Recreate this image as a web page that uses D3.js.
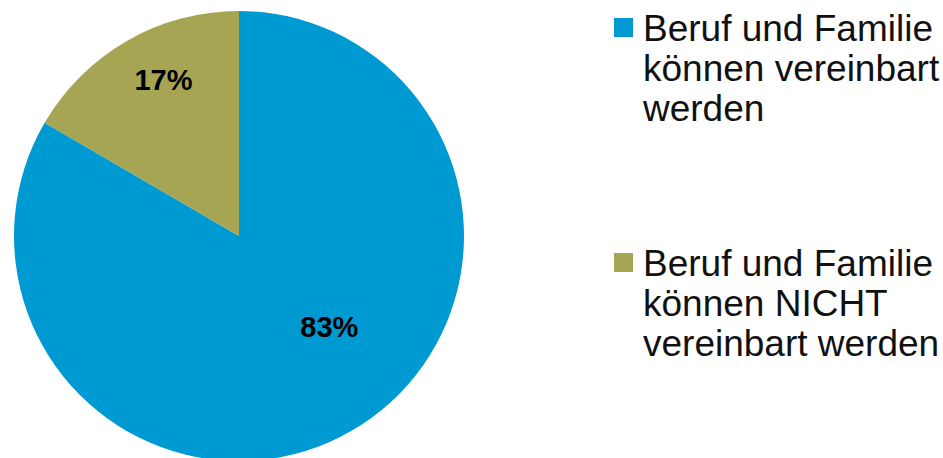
<!DOCTYPE html>
<html>
<head>
<meta charset="utf-8">
<script src="https://cdn.jsdelivr.net/npm/d3@7"></script>
<style>
  body { margin: 0; background: #fff; }
  text { font-family: "Liberation Sans", Arial, sans-serif; }
</style>
</head>
<body>
<div class="chart"></div>
<script>
// data
const categories = [
  ["Beruf und Familie", "können vereinbart", "werden"],
  ["Beruf und Familie", "können NICHT", "vereinbart werden"]
];
const values = [83.4, 16.6];
const colors = ["#009AD3", "#A5A553"];

var width = 943, height = 458;
var cx = 239, cy = 236, radius = 225;

const svg = d3.select(".chart").append("svg")
    .attr("width", width)
    .attr("height", height);

const g = svg.append("g")
    .attr("transform", "translate(" + cx + "," + cy + ")");

const pie = d3.pie().sort(null).value(d => d);
const arcs = pie(values);

const arc = d3.arc().innerRadius(0).outerRadius(radius);

g.selectAll("path")
    .data(arcs)
    .enter().append("path")
    .attr("d", arc)
    .attr("fill", (d, i) => colors[i]);

// label placement (excel-ish): radius fraction + angle shift per slice
const labelLayout = [{k: 0.57, da: -0.26}, {k: 0.77, da: 0.07}];

function labelPos(d, i) {
  let a = (d.startAngle + d.endAngle) / 2 + labelLayout[i].da;
  return [Math.sin(a) * radius * labelLayout[i].k, -Math.cos(a) * radius * labelLayout[i].k];
}

g.selectAll(".lbl")
    .data(arcs)
    .enter().append("text")
    .attr("class", "lbl")
    .attr("x", (d, i) => labelPos(d, i)[0])
    .attr("y", (d, i) => labelPos(d, i)[1])
    .attr("dy", "0.35em")
    .attr("text-anchor", "middle")
    .style("font-size", "29px")
    .style("font-weight", "bold")
    .attr("fill", "#000")
    .text(d => Math.round(d.data) + "%");

// legend
const legend = svg.selectAll(".legend")
    .data(categories)
    .enter().append("g")
    .attr("class", "legend")
    .attr("transform", (d, i) => "translate(614," + (i == 0 ? 18 : 253) + ")");

legend.append("rect")
    .attr("width", 19)
    .attr("height", 19)
    .attr("fill", (d, i) => colors[i]);

legend.append("text")
    .attr("x", 29)
    .attr("y", 23)
    .style("font-size", "37px")
    .attr("fill", "#111")
    .selectAll("tspan")
    .data(d => d)
    .enter().append("tspan")
    .attr("x", 29)
    .attr("dy", (d, i) => i == 0 ? 0 : 40)
    .text(d => d);
</script>
</body>
</html>
